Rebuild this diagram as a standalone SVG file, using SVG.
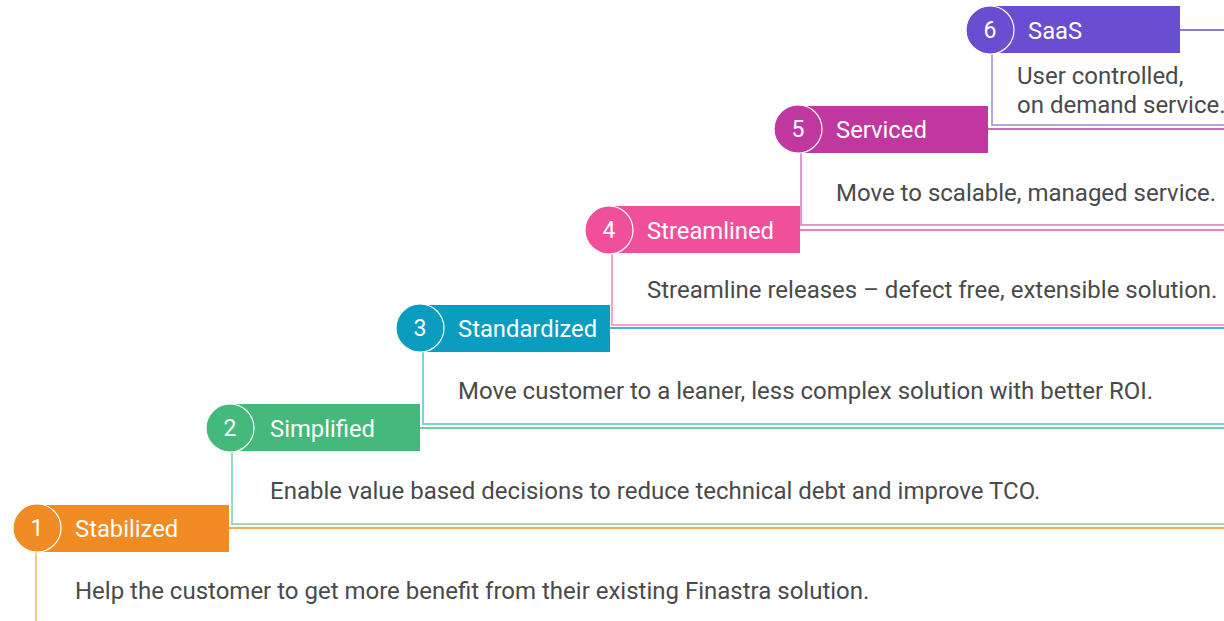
<svg xmlns="http://www.w3.org/2000/svg" width="1224" height="621" viewBox="0 0 1224 621">
<style>
.lbl{font-family:Roboto,"Liberation Sans",sans-serif;font-size:23.8px;fill:#ffffff}
.num{font-family:Roboto,"Liberation Sans",sans-serif;font-size:23px;fill:#ffffff;text-anchor:middle}
.desc{font-family:Roboto,"Liberation Sans",sans-serif;font-size:24px;fill:#4a4a4a}
.circ{stroke:#ffffff;stroke-width:1.2}
.hl{fill:none;stroke-width:1.5}
.ll{fill:none;stroke-width:2}
</style>
<rect width="1224" height="621" fill="#ffffff"/>
<g id="connectors">
<line class="hl" x1="229" y1="528" x2="1224" y2="528" stroke="#F08C23"/>
<line class="hl" x1="420" y1="428" x2="1224" y2="428" stroke="#45B97C"/>
<line class="hl" x1="610" y1="328" x2="1224" y2="328" stroke="#0A9DC0"/>
<line class="hl" x1="800" y1="230" x2="1224" y2="230" stroke="#F0509A"/>
<line class="hl" x1="988" y1="129" x2="1224" y2="129" stroke="#C0389F"/>
<line class="hl" x1="1180" y1="30" x2="1224" y2="30" stroke="#694ED2"/>
<polyline class="ll" points="36,552 36,621" stroke="#F9C48E"/>
<polyline class="ll" points="232,451 232,524 1224,524" stroke="#9ADBB8"/>
<polyline class="ll" points="423,351 423,424 1224,424" stroke="#82CFE0"/>
<polyline class="ll" points="612,253 612,325 1224,325" stroke="#F6A3C8"/>
<polyline class="ll" points="801,152 801,225 1224,225" stroke="#DE9ACD"/>
<polyline class="ll" points="992,53 992,125 1224,125" stroke="#B3A6E8"/>
</g>
<g id="step1">
<rect x="37" y="505" width="192" height="47" fill="#F08C23"/>
<circle class="circ" cx="37" cy="528" r="24" fill="#F08C23"/>
<text class="num" x="37" y="536">1</text>
<text class="lbl" x="75" y="537">Stabilized</text>
<text class="desc" x="75" y="599">Help the customer to get more benefit from their existing Finastra solution.</text>
</g>
<g id="step2">
<rect x="230" y="404" width="190" height="47" fill="#45B97C"/>
<circle class="circ" cx="230" cy="428" r="24" fill="#45B97C"/>
<text class="num" x="230" y="436">2</text>
<text class="lbl" x="270" y="437">Simplified</text>
<text class="desc" x="270" y="499">Enable value based decisions to reduce technical debt and improve TCO.</text>
</g>
<g id="step3">
<rect x="420" y="305" width="190" height="47" fill="#0A9DC0"/>
<circle class="circ" cx="420" cy="328" r="24" fill="#0A9DC0"/>
<text class="num" x="420" y="336">3</text>
<text class="lbl" x="458" y="337">Standardized</text>
<text class="desc" x="458" y="399">Move customer to a leaner, less complex solution with better ROI.</text>
</g>
<g id="step4">
<rect x="609" y="206" width="191" height="47" fill="#F0509A"/>
<circle class="circ" cx="609" cy="230" r="24" fill="#F0509A"/>
<text class="num" x="609" y="238">4</text>
<text class="lbl" x="647" y="239">Streamlined</text>
<text class="desc" x="647" y="298">Streamline releases – defect free, extensible solution.</text>
</g>
<g id="step5">
<rect x="798" y="106" width="190" height="47" fill="#C0389F"/>
<circle class="circ" cx="798" cy="129" r="24" fill="#C0389F"/>
<text class="num" x="798" y="137">5</text>
<text class="lbl" x="836" y="138">Serviced</text>
<text class="desc" x="836" y="201">Move to scalable, managed service.</text>
</g>
<g id="step6">
<rect x="990" y="6" width="190" height="47" fill="#694ED2"/>
<circle class="circ" cx="990" cy="30" r="24" fill="#694ED2"/>
<text class="num" x="990" y="38">6</text>
<text class="lbl" x="1028" y="39">SaaS</text>
<text class="desc" x="1017" y="84">User controlled,</text>
<text class="desc" x="1017" y="113">on demand service.</text>
</g>
</svg>
